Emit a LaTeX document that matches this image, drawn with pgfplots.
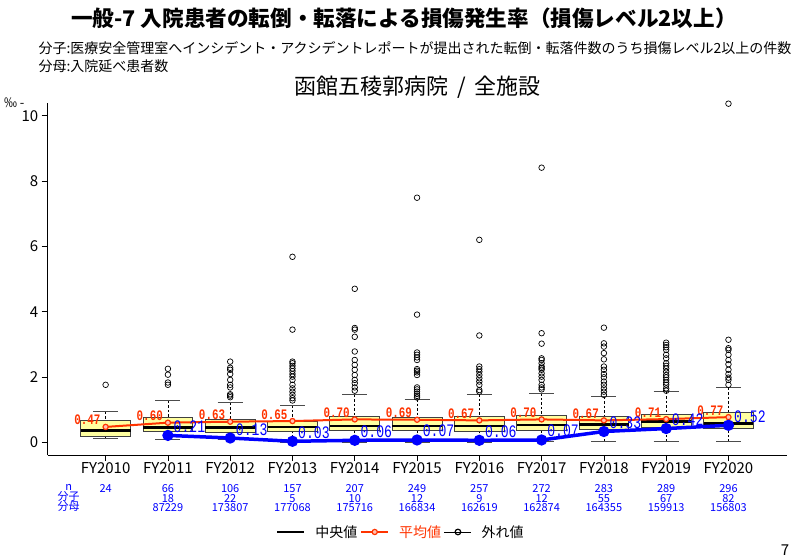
\documentclass[border=0pt]{standalone}
\usepackage{fontspec}
\setmainfont{Noto Sans CJK JP}
\newfontfamily\numfont[FakeStretch=0.75]{Liberation Mono}
\usepackage{pgfplots}
\usepackage{pgfplotstable}
\pgfplotsset{compat=1.18}
\usepgfplotslibrary{statistics}

\definecolor{boxfill}{RGB}{255,255,160}
\definecolor{meanred}{RGB}{255,51,0}
\definecolor{rateblue}{RGB}{0,0,255}

% facility mean (red) and own-hospital rate (blue), per mille
\pgfplotstableread{
x mean
0 0.47
1 0.60
2 0.63
3 0.65
4 0.70
5 0.69
6 0.67
7 0.70
8 0.67
9 0.71
10 0.77
}\meantab
\pgfplotstableread{
x rate
1 0.21
2 0.13
3 0.03
4 0.06
5 0.07
6 0.06
7 0.07
8 0.33
9 0.42
10 0.52
}\ratetab

\newcommand\tb[1]{{\fontsize{11bp}{9.5bp}\selectfont\color{rateblue}#1}}

\begin{document}
\begin{tikzpicture}
\path[use as bounding box] (-47.7bp,-102bp) rectangle (750.3bp,455bp);
\begin{axis}[
    scale only axis,
    width=739.3bp, height=352.3bp,
    xmin=-0.93, xmax=10.94,
    ymin=-0.39, ymax=10.4,
    axis x line*=bottom, axis y line*=left,
    axis line style={line width=0.8bp},
    clip=false,
    xtick={0,...,10},
    xticklabels={
      {FY2010\\[1.7bp]\tb{24}},
      {FY2011\\[1.7bp]\tb{66}\\[-8.5bp]\tb{18}\\[-8.5bp]\tb{87229}},
      {FY2012\\[1.7bp]\tb{106}\\[-8.5bp]\tb{22}\\[-8.5bp]\tb{173807}},
      {FY2013\\[1.7bp]\tb{157}\\[-8.5bp]\tb{5}\\[-8.5bp]\tb{177068}},
      {FY2014\\[1.7bp]\tb{207}\\[-8.5bp]\tb{10}\\[-8.5bp]\tb{175716}},
      {FY2015\\[1.7bp]\tb{249}\\[-8.5bp]\tb{12}\\[-8.5bp]\tb{166834}},
      {FY2016\\[1.7bp]\tb{257}\\[-8.5bp]\tb{9}\\[-8.5bp]\tb{162619}},
      {FY2017\\[1.7bp]\tb{272}\\[-8.5bp]\tb{12}\\[-8.5bp]\tb{162874}},
      {FY2018\\[1.7bp]\tb{283}\\[-8.5bp]\tb{55}\\[-8.5bp]\tb{164355}},
      {FY2019\\[1.7bp]\tb{289}\\[-8.5bp]\tb{67}\\[-8.5bp]\tb{159913}},
      {FY2020\\[1.7bp]\tb{296}\\[-8.5bp]\tb{82}\\[-8.5bp]\tb{156803}}},
    xticklabel style={font=\fontsize{15bp}{18bp}\selectfont, align=center, inner sep=1bp},
    ytick={0,2,4,6,8,10},
    yticklabel style={font=\fontsize{15bp}{18bp}\selectfont},
    tick align=outside,
    major tick length=6bp,
    tick style={black, line width=0.6bp},
    /pgf/number format/assume math mode=true,
    title={函館五稜郭病院 \,/\, 全施設},
    title style={at={(0.5,1.0276)}, anchor=center, font=\fontsize{22bp}{26bp}\selectfont},
    boxplot/draw direction=y,
    boxplot/box extend=0.8,
    boxplot/whisker extend=0.4,
    boxplot/every box/.style={draw=gray!50!black, fill=boxfill, line width=0.8bp},
    boxplot/draw/median/.code={
      \draw[black, line width=2.6bp]
        (boxplot box cs:\pgfplotsboxplotvalue{median},0) --
        (boxplot box cs:\pgfplotsboxplotvalue{median},1);},
    boxplot/draw/lower whisker/.code={
      \draw[black, line width=0.6bp, dash pattern=on 2.5bp off 2bp]
        (boxplot box cs:\pgfplotsboxplotvalue{lower whisker},0.5) --
        (boxplot box cs:\pgfplotsboxplotvalue{lower quartile},0.5);
      \draw[gray!60!black, line width=1bp]
        (boxplot whisker cs:\pgfplotsboxplotvalue{lower whisker},0) --
        (boxplot whisker cs:\pgfplotsboxplotvalue{lower whisker},1);},
    boxplot/draw/upper whisker/.code={
      \draw[black, line width=0.6bp, dash pattern=on 2.5bp off 2bp]
        (boxplot box cs:\pgfplotsboxplotvalue{upper whisker},0.5) --
        (boxplot box cs:\pgfplotsboxplotvalue{upper quartile},0.5);
      \draw[gray!60!black, line width=1bp]
        (boxplot whisker cs:\pgfplotsboxplotvalue{upper whisker},0) --
        (boxplot whisker cs:\pgfplotsboxplotvalue{upper whisker},1);},
    fybox/.style={black, forget plot, mark=o, mark size=2.8bp,
      mark options={line width=0.7bp, solid}},
    legend style={draw=none, fill=none, legend columns=3,
      at={(0.4778,-0.2185)}, anchor=center,
      font=\fontsize{14bp}{16bp}\selectfont,
      /tikz/every odd column/.append style={column sep=8bp},
      /tikz/every even column/.append style={column sep=1bp}},
    legend cell align=left,
]
% legend
\addlegendimage{legend image code/.code={\draw[black, line width=2bp] (0bp,0bp) -- (27bp,0bp);}}
\addlegendentry{中央値}
\addlegendimage{legend image code/.code={
  \draw[meanred, line width=2bp] (0bp,0bp) -- (27bp,0bp);
  \draw[meanred, fill=meanred!30, line width=1.2bp] (13.5bp,0bp) circle (2.6bp);}}
\addlegendentry[text=meanred]{平均値}
\addlegendimage{legend image code/.code={
  \path (0bp,0bp) -- (27bp,0bp);
  \draw[black, line width=1.2bp] (13.5bp,0bp) circle (2.8bp);}}
\addlegendentry{外れ値}

% all-facility distribution per year, outliers as data
\addplot[fybox, boxplot prepared={draw position=0, lower whisker=0.12, lower quartile=0.19,
  median=0.36, upper quartile=0.66, upper whisker=0.94}]
  table[row sep=\\, y index=0] {y\\ 1.76\\};
\addplot[fybox, boxplot prepared={draw position=1, lower whisker=0.07, lower quartile=0.33,
  median=0.45, upper quartile=0.75, upper whisker=1.27}]
  table[row sep=\\, y index=0] {y\\ 2.25\\ 2.07\\ 1.83\\ 1.76\\};
\addplot[fybox, boxplot prepared={draw position=2, lower whisker=0.07, lower quartile=0.31,
  median=0.45, upper quartile=0.70, upper whisker=1.21}]
  table[row sep=\\, y index=0] {y\\ 2.47\\ 2.28\\ 2.22\\ 2.09\\ 1.91\\ 1.76\\ 1.68\\ 1.47\\ 1.43\\ 1.38\\};
\addplot[fybox, boxplot prepared={draw position=3, lower whisker=0.00, lower quartile=0.33,
  median=0.47, upper quartile=0.65, upper whisker=1.14}]
  table[row sep=\\, y index=0] {y\\ 5.68\\ 3.45\\ 2.47\\ 2.42\\ 2.34\\ 2.26\\ 2.18\\ 2.09\\ 2.01\\ 1.91\\ 1.76\\ 1.65\\ 1.55\\ 1.45\\ 1.35\\ 1.28\\};
\addplot[fybox, boxplot prepared={draw position=4, lower whisker=0.00, lower quartile=0.35,
  median=0.50, upper quartile=0.78, upper whisker=1.45}]
  table[row sep=\\, y index=0] {y\\ 4.70\\ 3.50\\ 3.45\\ 3.23\\ 2.78\\ 2.52\\ 2.37\\ 2.22\\ 2.06\\ 1.91\\ 1.81\\ 1.68\\ 1.58\\};
\addplot[fybox, boxplot prepared={draw position=5, lower whisker=0.00, lower quartile=0.35,
  median=0.50, upper quartile=0.75, upper whisker=1.32}]
  table[row sep=\\, y index=0] {y\\ 7.49\\ 3.91\\ 2.75\\ 2.68\\ 2.60\\ 2.52\\ 2.24\\ 2.19\\ 2.14\\ 2.06\\ 1.68\\ 1.62\\ 1.55\\ 1.48\\ 1.42\\ 1.37\\};
\addplot[fybox, boxplot prepared={draw position=6, lower whisker=0.00, lower quartile=0.33,
  median=0.50, upper quartile=0.78, upper whisker=1.47}]
  table[row sep=\\, y index=0] {y\\ 6.20\\ 3.27\\ 2.32\\ 2.24\\ 2.16\\ 2.06\\ 1.96\\ 1.86\\ 1.76\\ 1.60\\ 1.55\\};
\addplot[fybox, boxplot prepared={draw position=7, lower whisker=0.02, lower quartile=0.35,
  median=0.53, upper quartile=0.82, upper whisker=1.50}]
  table[row sep=\\, y index=0] {y\\ 8.41\\ 3.34\\ 3.02\\ 2.57\\ 2.52\\ 2.42\\ 2.32\\ 2.27\\ 2.22\\ 2.11\\ 2.01\\ 1.91\\ 1.76\\ 1.68\\ 1.62\\};
\addplot[fybox, boxplot prepared={draw position=8, lower whisker=0.02, lower quartile=0.38,
  median=0.55, upper quartile=0.78, upper whisker=1.40}]
  table[row sep=\\, y index=0] {y\\ 3.51\\ 3.03\\ 2.93\\ 2.73\\ 2.54\\ 2.32\\ 2.22\\ 2.09\\ 1.99\\ 1.86\\ 1.76\\ 1.65\\ 1.55\\ 1.45\\};
\addplot[fybox, boxplot prepared={draw position=9, lower whisker=0.02, lower quartile=0.45,
  median=0.63, upper quartile=0.86, upper whisker=1.55}]
  table[row sep=\\, y index=0] {y\\ 3.05\\ 2.98\\ 2.91\\ 2.83\\ 2.68\\ 2.57\\ 2.42\\ 2.34\\ 2.26\\ 2.16\\ 2.06\\ 1.99\\ 1.91\\ 1.83\\ 1.76\\ 1.65\\ 1.58\\};
\addplot[fybox, boxplot prepared={draw position=10, lower whisker=0.02, lower quartile=0.43,
  median=0.58, upper quartile=0.92, upper whisker=1.67}]
  table[row sep=\\, y index=0] {y\\ 10.37\\ 3.14\\ 2.88\\ 2.83\\ 2.68\\ 2.52\\ 2.39\\ 2.22\\ 2.09\\ 1.98\\ 1.91\\ 1.76\\};

% mean of all facilities
\addplot[meanred, forget plot, line width=2bp, mark=*, mark size=2.6bp,
  mark options={fill=meanred!30, draw=meanred, line width=1.2bp},
  point meta=y,
  nodes near coords={\pgfmathprintnumber[fixed,fixed zerofill,precision=2]{\pgfplotspointmeta}},
  every node near coord/.style={font=\numfont\bfseries\fontsize{14.5bp}{14.5bp}\selectfont, text=meanred,
    anchor=base east, inner sep=0pt, xshift=-4.5bp, yshift=2bp}]
  table[x=x, y=mean] {\meantab};

% this hospital
\addplot[rateblue, forget plot, line width=3.5bp, mark=*, mark size=3.8bp,
  point meta=y,
  nodes near coords={\pgfmathprintnumber[fixed,fixed zerofill,precision=2]{\pgfplotspointmeta}},
  every node near coord/.style={font=\numfont\fontsize{17.5bp}{17.5bp}\selectfont, text=rateblue,
    anchor=base west, inner sep=0pt, xshift=4bp, yshift=3bp}]
  table[x=x, y=rate] {\ratetab};

% titles and notes
\node[font=\bfseries\fontsize{21.6bp}{26bp}\selectfont] at (rel axis cs:0.482,1.2404)
  {一般-7\ 入院患者の転倒・転落による損傷発生率（損傷レベル2以上）};
\node[anchor=west, font=\fontsize{14bp}{16bp}\selectfont] at (rel axis cs:-0.0172,1.155)
  {分子:医療安全管理室へインシデント・アクシデントレポートが提出された転倒・転落件数のうち損傷レベル2以上の件数};
\node[anchor=west, font=\fontsize{14bp}{16bp}\selectfont] at (rel axis cs:-0.0172,1.104)
  {分母:入院延べ患者数};
\node[anchor=east, font=\fontsize{13bp}{15bp}\selectfont] at (rel axis cs:-0.0266,0.9991) {‰\ -};
\node[font=\fontsize{11bp}{9.5bp}\selectfont, text=rateblue] at (rel axis cs:0.0284,-0.0928) {n};
\node[font=\fontsize{11bp}{9.5bp}\selectfont, text=rateblue] at (rel axis cs:0.0284,-0.1183) {分子};
\node[font=\fontsize{11bp}{9.5bp}\selectfont, text=rateblue] at (rel axis cs:0.0284,-0.1467) {分母};
\node[font=\fontsize{15bp}{18bp}\selectfont] at (rel axis cs:0.9973,-0.2697) {7};
\end{axis}
\end{tikzpicture}
\end{document}
